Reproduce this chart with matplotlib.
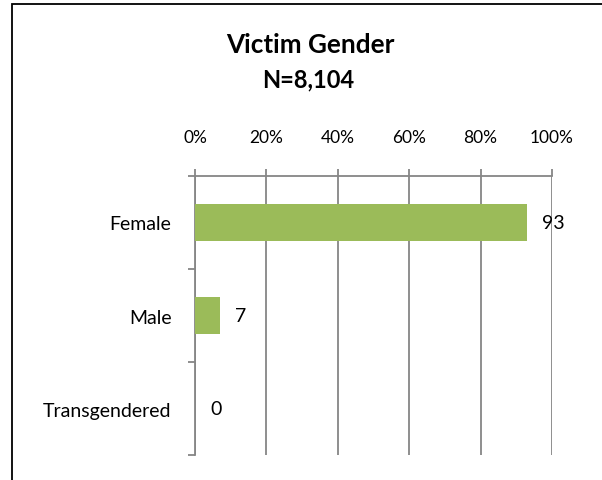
import matplotlib.pyplot as plt
import matplotlib.patches as mpatches
import numpy as np

plt.rcParams['font.family'] = ['Lato', 'DejaVu Sans']

categories = ["Female", "Male", "Transgendered"]
values = [93, 7, 0]
xticks = [0, 20, 40, 60, 80, 100]
xtick_labels = ["0%", "20%", "40%", "60%", "80%", "100%"]

bar_color = "#9BBB59"
grid_color = "#868686"

W, H = 602, 481
fig = plt.figure(figsize=(W/100, H/100), dpi=100)
ax = fig.add_axes([195/W, 1-456/H, 357/W, 279/H])

y = np.arange(len(categories))
ax.barh(y, values, height=0.4, color=bar_color, zorder=3)
ax.set_ylim(len(categories)-0.5, -0.5)
ax.set_xlim(0, 100)

# top axis ticks
ax.xaxis.tick_top()
ax.set_xticks(xticks)
ax.set_xticklabels(xtick_labels, fontsize=12.5)
ax.tick_params(axis='x', direction='out', length=5, width=1.3, color=grid_color, pad=17)
ax.grid(axis='x', color=grid_color, linewidth=1.3, zorder=0)

# categories with boundary ticks
ax.set_yticks(y)
ax.set_yticklabels(categories, fontsize=14)
ax.tick_params(axis='y', which='major', length=0, pad=17)
ax.set_yticks(np.arange(len(categories)+1)-0.5, minor=True)
ax.tick_params(axis='y', which='minor', direction='out', length=5, width=1.3, color=grid_color)

for s in ['right', 'bottom']:
    ax.spines[s].set_visible(False)
for s in ['left', 'top']:
    ax.spines[s].set_color(grid_color)
    ax.spines[s].set_linewidth(1.3)

for yi, v in zip(y, values):
    ax.annotate(str(v), (v, yi), xytext=(15, 0), textcoords='offset pixels',
                ha='left', va='center', fontsize=14)

fig.text(310/W, 1-53/H, "Victim Gender", ha='center', va='baseline',
         fontsize=18.8, fontweight='bold')
fig.text(308/W, 1-87/H, "N=8,104", ha='center', va='baseline',
         fontsize=17, fontweight='bold')

# outer chart border
fig.patches.append(mpatches.Rectangle((12/W, -0.2), 1.2, 1.2 - 5/H, transform=fig.transFigure,
                                      fill=False, edgecolor='black', linewidth=1.3, clip_on=False))

fig.savefig("out.png", dpi=100)
